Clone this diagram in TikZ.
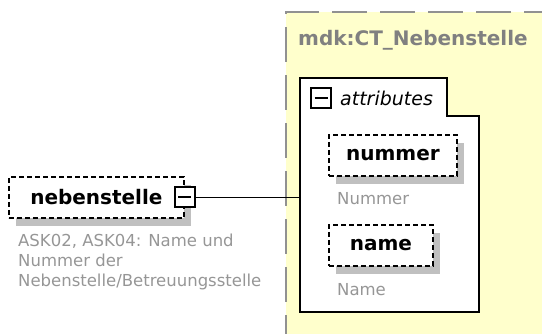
\documentclass[tikz,border=0pt]{standalone}
\usepackage{fontspec}
\setsansfont{DejaVu Sans}
\usetikzlibrary{positioning, shadows}
\definecolor{typeyellow}{RGB}{255,255,204}
\definecolor{typegray}{RGB}{145,145,145}
\definecolor{titlegray}{RGB}{128,128,128}
\definecolor{docgray}{RGB}{150,150,150}
\definecolor{shadowgray}{RGB}{192,192,192}

\begin{document}
\begin{tikzpicture}[x=1pt, y=-1pt,
    elem/.style={draw, dash pattern=on 5pt off 3pt, line width=1.8pt, fill=white,
                 minimum height=41pt, anchor=north west, inner sep=0pt,
                 font=\sffamily\bfseries\fontsize{20}{24}\selectfont,
                 general shadow={fill=shadowgray, draw=none, shadow xshift=7pt, shadow yshift=-8pt}},
    doc/.style={anchor=west, inner sep=0pt, text=docgray, align=left,
                font=\sffamily\fontsize{16.5}{20}\selectfont},
    minus/.style={draw, fill=white, minimum size=20pt, inner sep=0pt, line width=1.8pt,
                  path picture={\draw[line width=1.8pt]
                    ([xshift=3.5pt]path picture bounding box.west) --
                    ([xshift=-3.5pt]path picture bounding box.east);}}
  ]
    \useasboundingbox (0,0) rectangle (542,334);
    \clip (0,0) rectangle (542,334);

    %% Complex type frame
    \fill[typeyellow] (286,12) rectangle (560,350);
    \draw[typegray, line width=2.4pt, dash pattern=on 35pt off 13pt] (286,350) -- (286,12) -- (560,12);
    \node[anchor=west, inner sep=0pt, text=titlegray,
          font=\sffamily\bfseries\fontsize{20}{24}\selectfont] (title) at (298,40) {mdk:CT\_Nebenstelle};

    %% Attribute group
    \draw[line width=1.8pt, fill=white] (300,78) -- (447,78) -- (447,116) -- (479,116)
      -- (479,312) -- (300,312) -- cycle;
    \node[minus] (attrminus) at (321,98) {};
    \node[anchor=west, inner sep=0pt, font=\sffamily\itshape\fontsize{19}{23}\selectfont]
      (attrs) at (340,98) {attributes};
    \coordinate (attrin) at (300,196.5);

    %% Attributes
    \node[elem, minimum width=128pt] (nummer) at (328,134) {nummer};
    \node[doc] (nummerdoc) at (337,199) {Nummer};
    \node[elem, minimum width=104pt] (name) at (328,224) {name};
    \node[doc] (namedoc) at (337,290) {Name};

    %% Element
    \node[elem, minimum width=175pt] (neben) at (8,176) {nebenstelle};
    \node[minus] (nebminus) at (neben.east) {};
    \node[doc] (nebendoc) at (18,262)
      {ASK02, ASK04: Name und\\Nummer der\\Nebenstelle/Betreuungsstelle};

    %% Connector
    \draw[line width=1.6pt] (nebminus.east) -- (nebminus.east -| attrin);
  \end{tikzpicture}
\end{document}
